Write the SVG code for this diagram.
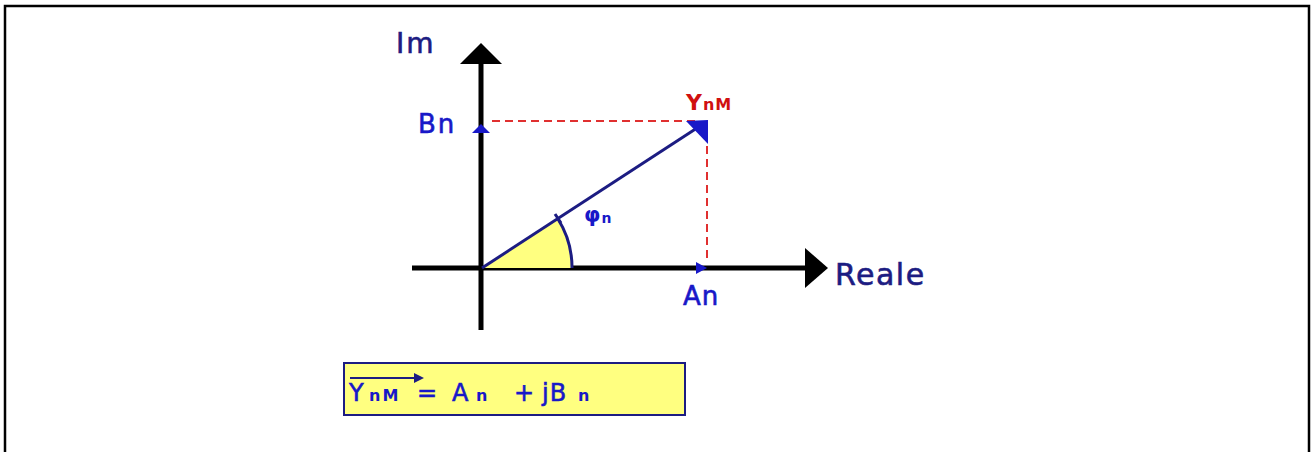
<svg xmlns="http://www.w3.org/2000/svg" width="1312" height="452" viewBox="0 0 1312 452">
<style>
.t{font-family:"DejaVu Sans","Verdana",sans-serif}
.navy{fill:#1c1c82}
.blue{fill:#1818c8}
.red{fill:#d01010}
.thick{stroke-width:0.6}
.navy.thick{stroke:#1c1c82}
.blue.thick{stroke:#1818c8}
.axis{stroke:#000;stroke-width:5;fill:none}
.dash{stroke:#e03030;stroke-width:2;stroke-dasharray:8 5;fill:none}
</style>
<rect x="0" y="0" width="1312" height="452" fill="#fff"/>
<path d="M5 452 V6 H1309 V452" fill="none" stroke="#000" stroke-width="2.5"/>
<g id="connectors">
<path class="dash" d="M492 121 H700"/>
<path class="dash" d="M707 146 V262"/>
<path class="axis" d="M481 330 V62"/>
<polygon points="481,43 460,64 502,64" fill="#000"/>
<path class="axis" d="M412 268 H806"/>
<polygon points="828,268 805,248 805,288" fill="#000"/>
</g>
<g id="angle">
<path d="M482 268 L558 219 A91 91 0 0 1 572 268 Z" fill="#ffff80"/>
<path d="M558 219 A91 91 0 0 1 572 268" fill="none" stroke="#1c1c82" stroke-width="3"/>
<line x1="555" y1="214" x2="561" y2="223" stroke="#1c1c82" stroke-width="3"/>
</g>
<g id="vector">
<line x1="482" y1="268" x2="697" y2="128" stroke="#1c1c82" stroke-width="3"/>
<polygon points="686,121 708,120 708,144" fill="#1818c8"/>
</g>
<g id="bn-marker"><polygon points="481,124 472,133 490,133" fill="#1818c8"/></g>
<g id="an-marker"><polygon points="707,268 696,262 696,274" fill="#1818c8"/></g>
<g id="label-im"><text class="t navy thick" x="396" y="53" font-size="28" letter-spacing="2">Im</text></g>
<g id="label-reale"><text class="t navy thick" x="835" y="285" font-size="30" letter-spacing="1.5">Reale</text></g>
<g id="label-bn"><text class="t blue thick" x="418" y="133" font-size="26" letter-spacing="2">Bn</text></g>
<g id="label-an"><text class="t blue thick" x="683" y="305" font-size="26" letter-spacing="1">An</text></g>
<g id="label-ynm"><text class="t red" x="686" y="110" font-size="22" font-weight="bold">Y<tspan font-size="16" dx="1" letter-spacing="1">nM</tspan></text></g>
<g id="label-phi"><text class="t blue" x="584" y="222" font-size="21" font-weight="bold">φ<tspan font-size="14" dy="1" dx="1">n</tspan></text></g>
<g id="formula">
<rect x="344" y="363" width="341" height="52" fill="#ffff80" stroke="#1c1c82" stroke-width="2"/>
<line x1="350" y1="378" x2="416" y2="378" stroke="#1c1c82" stroke-width="2"/>
<polygon points="424,378 414,373 414,383" fill="#1c1c82"/>
<text class="t blue thick" x="349" y="401" font-size="24">Y</text>
<text class="t blue" x="369" y="401" font-size="16" font-weight="bold" letter-spacing="2">nM</text>
<text class="t blue thick" x="417" y="401" font-size="24">=</text>
<text class="t blue thick" x="452" y="401" font-size="24">A</text>
<text class="t blue" x="476" y="401" font-size="16" font-weight="bold">n</text>
<text class="t blue thick" x="514" y="401" font-size="24">+</text>
<text class="t blue thick" x="542" y="401" font-size="24" letter-spacing="1">jB</text>
<text class="t blue" x="578" y="401" font-size="16" font-weight="bold">n</text>
</g>
</svg>
